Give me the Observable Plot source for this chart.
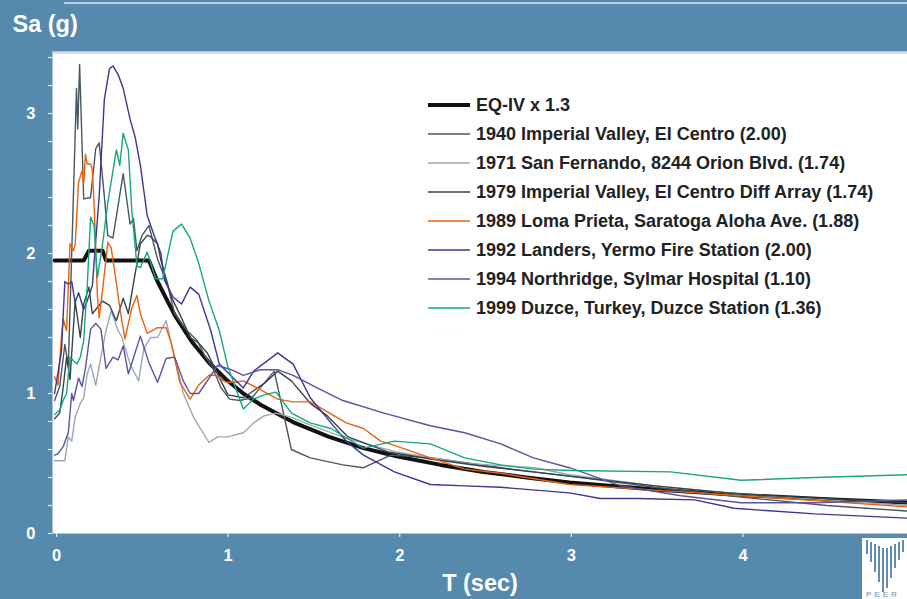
<!DOCTYPE html>
<html>
<head>
<meta charset="utf-8">
<script src="https://cdn.jsdelivr.net/npm/d3@7"></script>
<script src="https://cdn.jsdelivr.net/npm/@observablehq/plot@0.6"></script>
<style>
  html, body { margin: 0; padding: 0; background: #5689ae; overflow: hidden; }
  #chart { position: relative; width: 907px; height: 599px; }
  #topline { position: absolute; left: 64px; top: 2px; width: 843px; height: 2px; background: #b7cde0; }
</style>
</head>
<body>
<div id="chart"><div id="topline"></div></div>
<script>
// Legend names, colours and line weights, in drawing order
const seriesNames = [
  "EQ-IV x 1.3",
  "1940 Imperial Valley, El Centro (2.00)",
  "1971 San Fernando, 8244 Orion Blvd. (1.74)",
  "1979 Imperial Valley, El Centro Diff Array (1.74)",
  "1989 Loma Prieta, Saratoga Aloha Ave. (1.88)",
  "1992 Landers, Yermo Fire Station (2.00)",
  "1994 Northridge, Sylmar Hospital (1.10)",
  "1999 Duzce, Turkey, Duzce Station (1.36)"
];
const seriesColors = ["#111111", "#465862", "#98a9b3", "#36444a", "#e8620f", "#3d3592", "#5a52a4", "#14a87f"];
const seriesWidths = [4, 1.4, 1.4, 1.4, 1.4, 1.4, 1.4, 1.4];

// Period (s) and spectral acceleration (g) for each record
const eqT  = [0, 0.17, 0.20, 0.28, 0.30, 0.55, 0.60, 0.65, 0.70, 0.80, 0.90, 1.00, 1.10, 1.20, 1.40, 1.60, 1.80, 2.00, 2.25, 2.50, 2.75, 3.00, 3.50, 4.00, 4.50, 5.00];
const eqSa = [1.95, 1.95, 2.02, 2.02, 1.95, 1.95, 1.80, 1.68, 1.56, 1.37, 1.22, 1.10, 1.00, 0.92, 0.79, 0.69, 0.61, 0.55, 0.49, 0.44, 0.40, 0.365, 0.315, 0.275, 0.245, 0.22];

const ev1940T  = [0, 0.03, 0.06, 0.08, 0.10, 0.128, 0.135, 0.146, 0.17, 0.21, 0.24, 0.26, 0.29, 0.31, 0.34, 0.40, 0.44, 0.46, 0.48, 0.51, 0.55, 0.60, 0.66, 0.70, 0.77, 0.83, 0.88, 0.92, 0.97, 1.02, 1.08, 1.15, 1.28, 1.38, 1.49, 1.68, 1.80, 1.96, 2.20, 2.60, 3.00, 3.50, 4.00, 4.50, 4.97];
const ev1940Sa = [0.95, 1.05, 1.35, 1.20, 2.00, 3.18, 2.89, 3.35, 2.39, 2.40, 2.75, 2.79, 2.41, 2.13, 2.11, 2.57, 2.21, 2.25, 2.02, 2.13, 2.20, 1.96, 1.77, 1.57, 1.45, 1.38, 1.26, 1.19, 1.04, 0.96, 0.95, 0.97, 1.16, 0.60, 0.54, 0.49, 0.47, 0.56, 0.54, 0.47, 0.41, 0.33, 0.26, 0.20, 0.16];

const ev1971T  = [0, 0.02, 0.06, 0.08, 0.10, 0.12, 0.15, 0.17, 0.19, 0.21, 0.24, 0.27, 0.30, 0.33, 0.37, 0.39, 0.44, 0.49, 0.52, 0.56, 0.60, 0.65, 0.68, 0.72, 0.75, 0.81, 0.90, 0.95, 1.01, 1.10, 1.16, 1.22, 1.29, 1.38, 1.50, 1.70, 2.00, 2.40, 2.80, 3.00, 3.50, 4.00, 4.50, 4.97];
const ev1971Sa = [0.52, 0.52, 0.52, 0.69, 0.66, 0.83, 0.93, 0.97, 1.14, 1.21, 1.06, 1.26, 1.45, 1.59, 1.45, 1.41, 1.21, 1.09, 1.32, 1.40, 1.40, 1.52, 1.36, 1.16, 1.00, 0.83, 0.65, 0.69, 0.69, 0.72, 0.79, 0.84, 0.86, 0.83, 0.77, 0.68, 0.58, 0.50, 0.47, 0.42, 0.34, 0.28, 0.24, 0.20];

const ev1979T  = [0, 0.03, 0.05, 0.07, 0.09, 0.12, 0.15, 0.17, 0.20, 0.22, 0.28, 0.32, 0.36, 0.40, 0.43, 0.47, 0.50, 0.54, 0.56, 0.60, 0.62, 0.68, 0.74, 0.79, 0.84, 0.89, 0.95, 1.01, 1.10, 1.16, 1.23, 1.30, 1.38, 1.49, 1.59, 1.71, 1.95, 2.20, 2.50, 3.00, 3.50, 4.00, 4.50, 4.97];
const ev1979Sa = [0.82, 0.86, 1.04, 1.26, 1.10, 1.66, 1.40, 1.64, 1.76, 1.57, 1.66, 1.63, 1.52, 1.68, 1.57, 1.86, 2.07, 2.13, 2.12, 2.07, 1.95, 1.69, 1.54, 1.40, 1.36, 1.29, 1.14, 0.99, 0.97, 1.02, 1.08, 1.16, 1.09, 0.93, 0.84, 0.69, 0.58, 0.53, 0.48, 0.41, 0.34, 0.28, 0.25, 0.22];

const ev1989T  = [0, 0.02, 0.04, 0.05, 0.07, 0.09, 0.11, 0.12, 0.14, 0.16, 0.17, 0.18, 0.19, 0.21, 0.22, 0.23, 0.25, 0.26, 0.28, 0.31, 0.33, 0.36, 0.38, 0.41, 0.45, 0.48, 0.50, 0.54, 0.60, 0.65, 0.68, 0.73, 0.79, 0.84, 0.90, 0.94, 1.00, 1.05, 1.10, 1.18, 1.30, 1.39, 1.49, 1.70, 1.80, 1.90, 1.98, 2.19, 2.39, 2.60, 3.00, 3.50, 4.00, 4.50, 4.97];
const ev1989Sa = [1.12, 1.06, 1.40, 1.53, 1.45, 2.07, 2.02, 2.06, 2.51, 2.59, 2.50, 2.71, 2.64, 2.64, 2.60, 2.36, 1.69, 1.54, 1.74, 2.08, 2.04, 1.79, 1.61, 1.39, 1.61, 1.70, 1.57, 1.43, 1.47, 1.47, 1.36, 1.08, 0.96, 1.06, 1.13, 1.13, 1.08, 1.08, 1.09, 1.04, 0.96, 0.94, 0.94, 0.79, 0.75, 0.66, 0.63, 0.54, 0.46, 0.43, 0.35, 0.31, 0.27, 0.23, 0.19];

const ev1992T  = [0, 0.02, 0.04, 0.06, 0.08, 0.10, 0.12, 0.14, 0.17, 0.19, 0.22, 0.26, 0.29, 0.32, 0.34, 0.37, 0.40, 0.44, 0.47, 0.50, 0.54, 0.58, 0.62, 0.64, 0.69, 0.74, 0.79, 0.84, 0.91, 0.96, 1.00, 1.10, 1.16, 1.30, 1.39, 1.49, 1.61, 1.70, 1.80, 1.98, 2.19, 2.39, 2.60, 3.00, 3.18, 3.40, 3.73, 3.96, 4.43, 4.97];
const ev1992Sa = [1.00, 1.15, 1.30, 1.80, 1.78, 1.80, 1.65, 1.72, 1.60, 1.66, 1.77, 2.41, 3.10, 3.32, 3.34, 3.28, 3.18, 2.96, 2.83, 2.63, 2.27, 2.13, 2.00, 1.81, 1.69, 1.64, 1.76, 1.71, 1.45, 1.21, 1.16, 1.04, 1.16, 1.29, 1.21, 0.97, 0.79, 0.66, 0.56, 0.44, 0.35, 0.34, 0.33, 0.29, 0.25, 0.25, 0.24, 0.18, 0.14, 0.11];

const ev1994T  = [0, 0.02, 0.05, 0.08, 0.10, 0.11, 0.14, 0.16, 0.18, 0.21, 0.24, 0.27, 0.30, 0.34, 0.37, 0.40, 0.43, 0.50, 0.55, 0.60, 0.65, 0.70, 0.75, 0.79, 0.84, 0.95, 1.03, 1.10, 1.20, 1.30, 1.39, 1.53, 1.68, 1.92, 2.19, 2.39, 2.60, 2.79, 3.00, 3.30, 3.65, 4.00, 4.43, 4.97];
const ev1994Sa = [0.56, 0.57, 0.62, 0.72, 1.00, 0.95, 1.11, 1.05, 1.18, 1.46, 1.50, 1.46, 1.18, 1.26, 1.24, 1.34, 1.14, 1.41, 1.22, 1.08, 1.25, 1.26, 1.09, 1.00, 1.00, 1.20, 1.17, 1.13, 1.17, 1.17, 1.13, 1.04, 0.95, 0.86, 0.77, 0.72, 0.64, 0.54, 0.47, 0.34, 0.27, 0.22, 0.22, 0.24];

const ev1999T  = [0, 0.03, 0.05, 0.07, 0.09, 0.13, 0.15, 0.17, 0.19, 0.21, 0.23, 0.25, 0.28, 0.31, 0.36, 0.38, 0.40, 0.43, 0.45, 0.48, 0.50, 0.54, 0.59, 0.63, 0.69, 0.74, 0.79, 0.84, 0.90, 0.96, 1.01, 1.10, 1.16, 1.22, 1.29, 1.38, 1.49, 1.61, 1.80, 1.98, 2.19, 2.39, 2.60, 2.79, 3.01, 3.59, 4.00, 4.43, 4.97];
const ev1999Sa = [0.85, 0.88, 0.95, 1.00, 1.26, 1.21, 1.26, 1.38, 1.76, 2.26, 2.20, 1.83, 2.07, 2.36, 2.74, 2.63, 2.86, 2.74, 2.31, 1.91, 1.90, 2.01, 1.82, 1.82, 2.16, 2.21, 2.11, 1.93, 1.66, 1.45, 1.19, 0.89, 0.96, 0.99, 1.01, 0.86, 0.79, 0.75, 0.61, 0.66, 0.64, 0.54, 0.49, 0.46, 0.45, 0.44, 0.38, 0.40, 0.42];

// Axis ticks
const xTicks = [0, 1, 2, 3, 4];
const yTicks = d3.range(0, 3.41, 0.2).map(v => +v.toFixed(1));

const periodLists = [eqT, ev1940T, ev1971T, ev1979T, ev1989T, ev1992T, ev1994T, ev1999T];
const saLists = [eqSa, ev1940Sa, ev1971Sa, ev1979Sa, ev1989Sa, ev1992Sa, ev1994Sa, ev1999Sa];

const series = seriesNames.map((name, i) => ({
  name,
  color: seriesColors[i],
  width: seriesWidths[i],
  rows: periodLists[i].map((t, j) => ({T: t, Sa: saLists[i][j]}))
}));

const fontFamily = "'Liberation Sans', Arial, Helvetica, sans-serif";

const svg = Plot.plot({
  width: 907,
  height: 599,
  marginLeft: 52,
  marginRight: 0,
  marginTop: 52,
  marginBottom: 66,
  style: {background: "transparent", fontFamily, overflow: "visible"},
  x: {domain: [-0.012, 4.97]},
  y: {domain: [0, 3.436]},
  marks: [
    Plot.frame({fill: "white", stroke: null}),
    Plot.ruleY([3.436], {stroke: "#d3dbe2", strokeWidth: 2.5}),
    Plot.axisY(yTicks, {
      tickSize: 4, tickPadding: 13, stroke: "#e4ebf1", strokeWidth: 1.2,
      fill: "white", fontSize: 16.5, fontWeight: "bold", label: null,
      tickFormat: d => Math.abs(d - Math.round(d)) < 1e-6 ? String(Math.round(d)) : ""
    }),
    Plot.axisX(xTicks, {
      tickSize: 4, tickPadding: 12, stroke: "#e4ebf1", strokeWidth: 1.2,
      fill: "white", fontSize: 16.5, fontWeight: "bold", label: null,
      tickFormat: d => String(d), dx: 2
    }),
    ...series.map(s => Plot.line(s.rows, {
      x: "T", y: "Sa", stroke: s.color, strokeWidth: s.width,
      strokeLinejoin: "round", clip: true
    })),
    Plot.text(["Sa (g)"], {
      frameAnchor: "top-left", dx: -40, dy: -28, textAnchor: "start", lineAnchor: "middle",
      fill: "white", fontSize: 23.5, fontWeight: "bold"
    }),
    Plot.text(["T (sec)"], {
      frameAnchor: "bottom", dy: 50, lineAnchor: "middle",
      fill: "white", fontSize: 23.5, fontWeight: "bold"
    })
  ]
});

// Legend inside the plot area
const legend = d3.select(svg).append("g")
  .attr("font-family", fontFamily)
  .attr("text-anchor", "start");
series.forEach((s, i) => {
  const y = 105 + i * 29;
  legend.append("line")
    .attr("x1", 428).attr("x2", 470).attr("y1", y).attr("y2", y)
    .attr("stroke", s.color).attr("stroke-width", i === 0 ? 4 : 1.4);
  legend.append("text")
    .attr("x", 476).attr("y", y).attr("dy", "0.36em")
    .attr("font-size", 18).attr("font-weight", "bold").attr("fill", "#222")
    .text(s.name);
});

// Corner logo mark
const logo = d3.select(svg).append("g").attr("text-anchor", "start");
logo.append("rect").attr("x", 862).attr("y", 538).attr("width", 45).attr("height", 61).attr("fill", "white");
const barHeights = [14, 20, 28, 36, 44, 40, 32, 24, 18, 12];
barHeights.forEach((h, i) => {
  logo.append("rect")
    .attr("x", 866 + i * 4).attr("y", 540 + (i < 5 ? i * 2 : (9 - i) * 2))
    .attr("width", 2).attr("height", h).attr("fill", "#5f8db3");
});
logo.append("text").attr("x", 866).attr("y", 597).attr("font-family", fontFamily)
  .attr("font-size", 8).attr("letter-spacing", 3).attr("fill", "#5f8db3").text("PEER");

document.getElementById("chart").appendChild(svg);
svg.style.position = "absolute";
svg.style.left = "0";
svg.style.top = "0";
</script>
</body>
</html>
